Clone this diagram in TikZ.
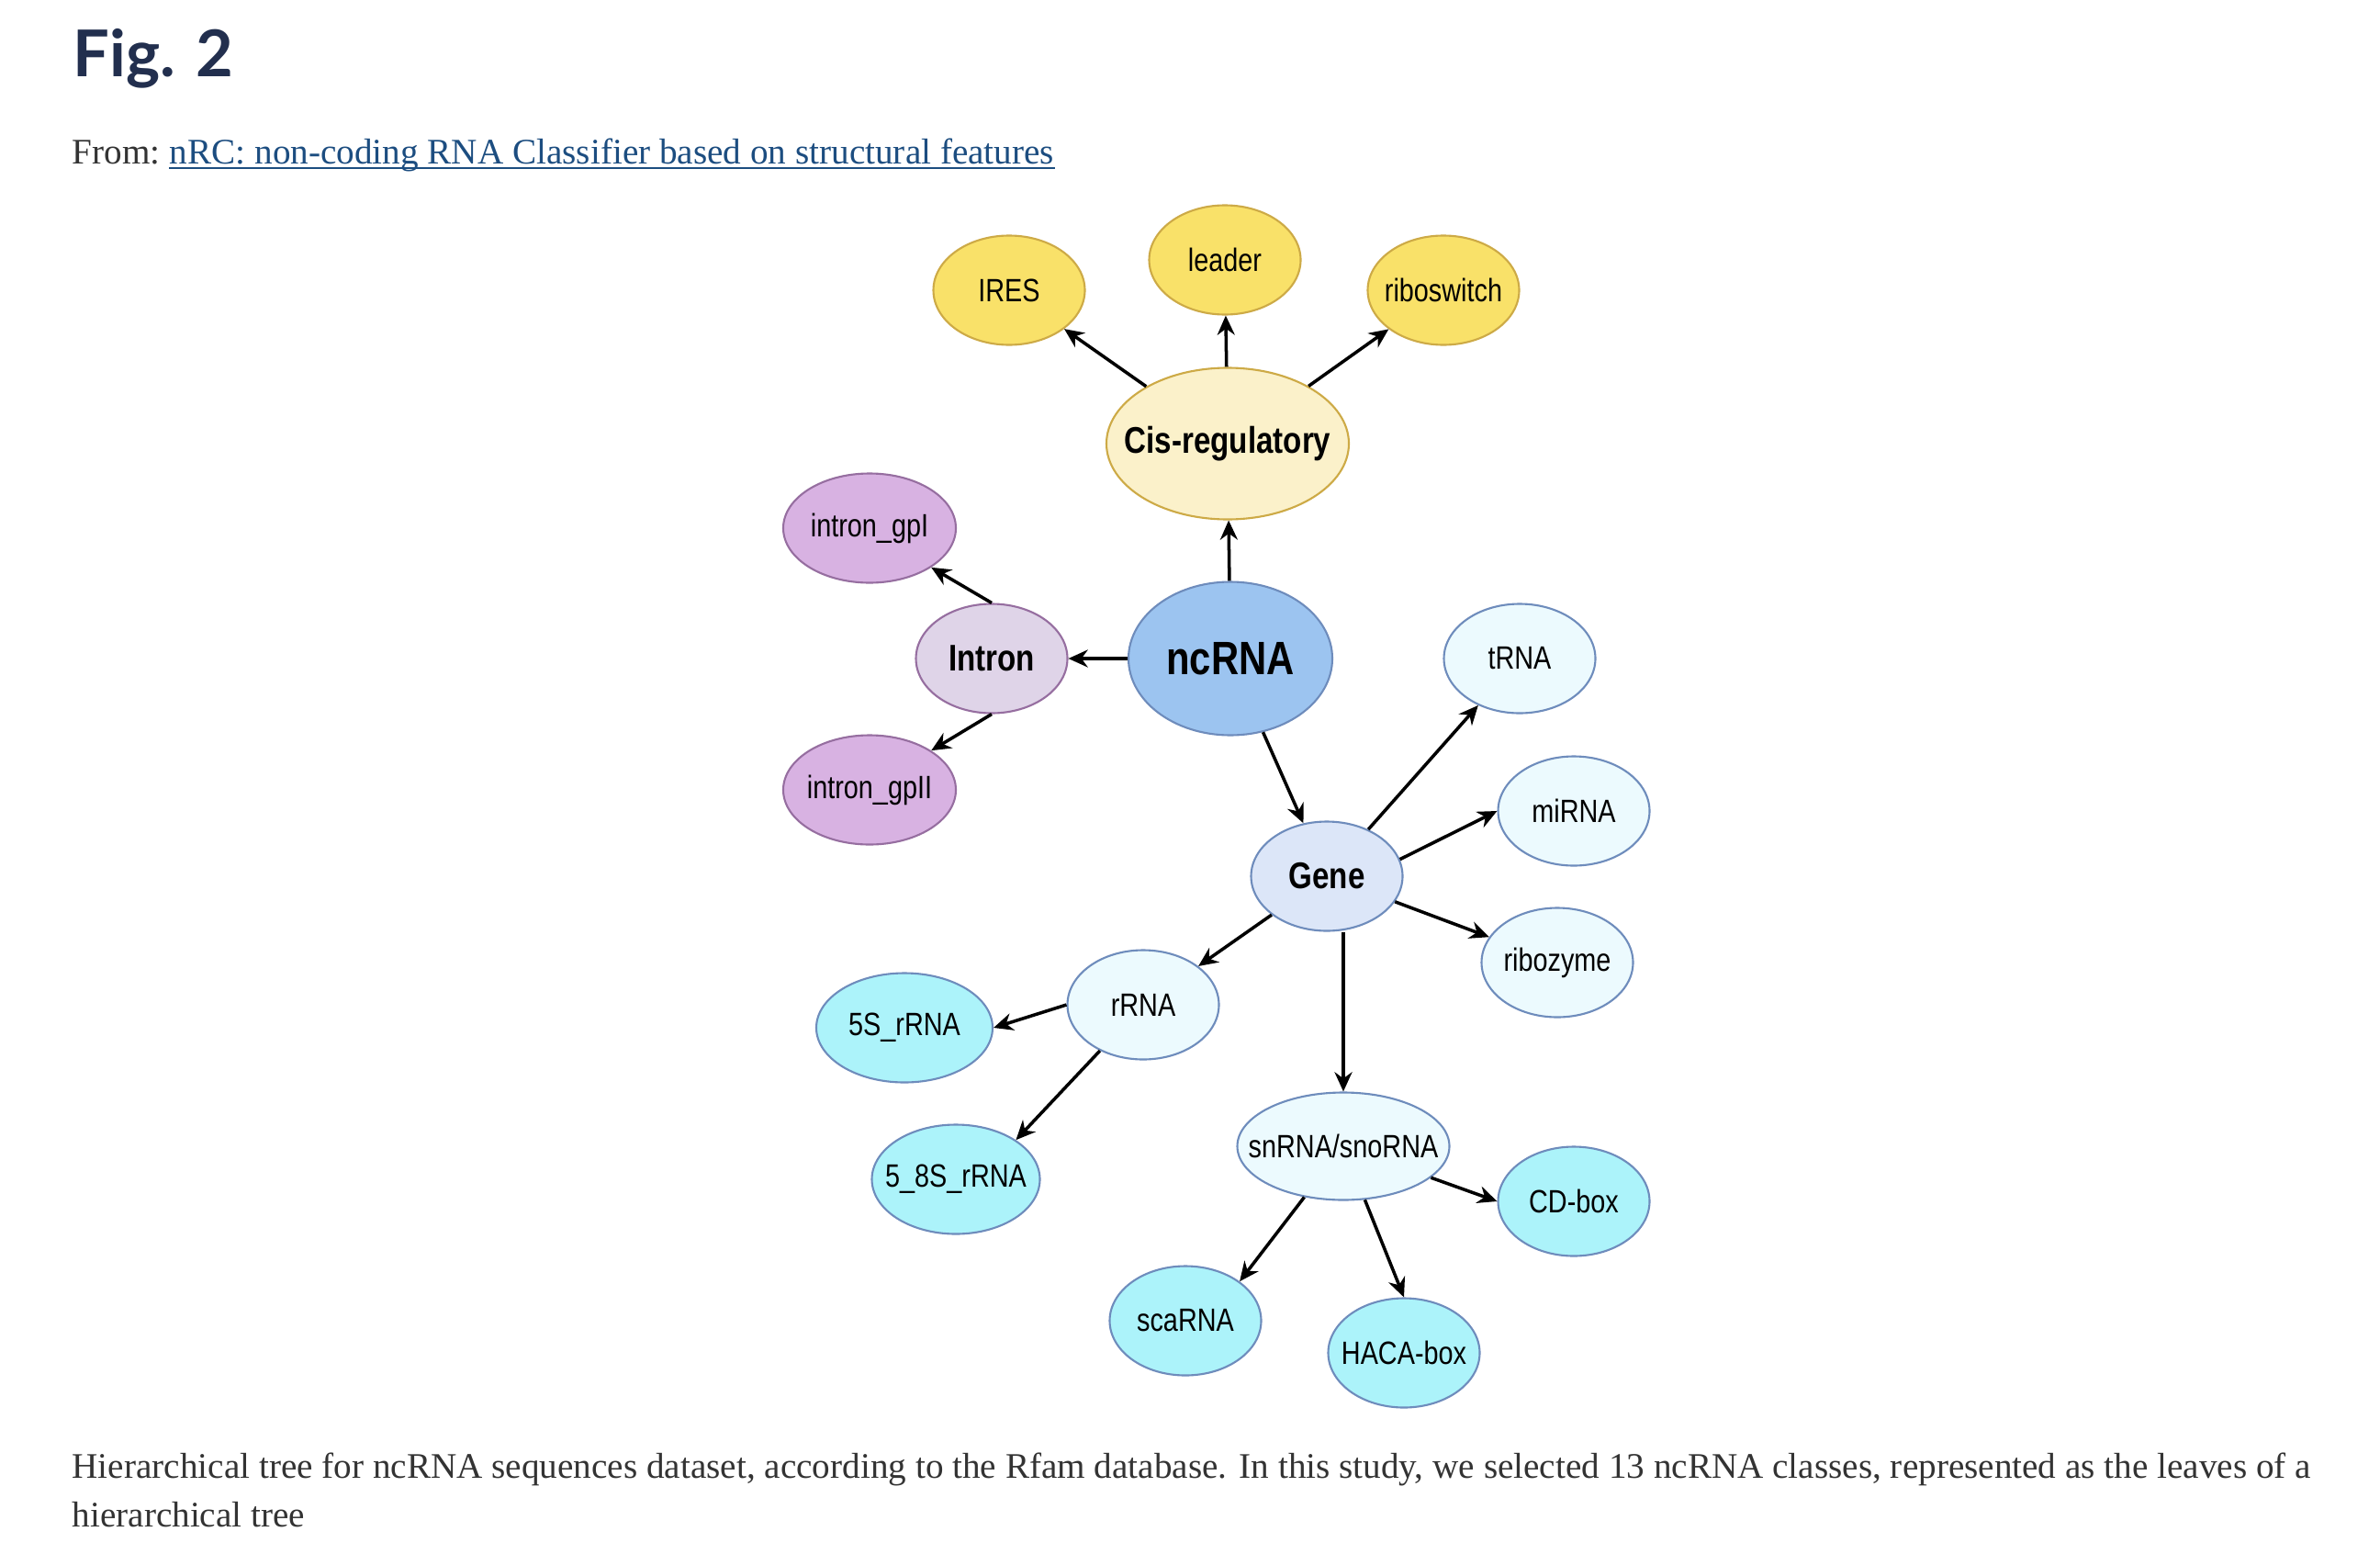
\documentclass[tikz,border=0pt]{standalone}
\usepackage{fontspec}
\setmainfont{Liberation Serif}
\newfontfamily\headfont{Lato}
\newfontfamily\nodefont[FakeStretch=0.82]{Liberation Sans}
\usepackage{tikz}
\usetikzlibrary{arrows.meta,positioning,shapes.geometric}
\definecolor{FigNavy}{RGB}{34,47,78}
\definecolor{LinkBlue}{RGB}{28,77,128}
\definecolor{TextGray}{RGB}{51,51,51}
\definecolor{LeafYellow}{RGB}{249,225,105}
\definecolor{CisYellow}{RGB}{251,241,202}
\definecolor{EdgeGold}{RGB}{205,170,70}
\definecolor{LeafPurple}{RGB}{216,178,226}
\definecolor{IntronLilac}{RGB}{223,212,232}
\definecolor{EdgePurple}{RGB}{150,110,160}
\definecolor{RootBlue}{RGB}{156,196,240}
\definecolor{GeneBlue}{RGB}{220,230,248}
\definecolor{PaleCyan}{RGB}{236,250,254}
\definecolor{LeafCyan}{RGB}{172,243,250}
\definecolor{EdgeBlue}{RGB}{110,140,188}

\begin{document}
\begin{tikzpicture}[
  blob/.style={ellipse, draw=EdgeBlue, line width=0.6pt, inner xsep=-1cm, inner ysep=0pt,
    minimum width=1.65cm, minimum height=1.19cm, font=\nodefont\fontsize{10}{12}\selectfont},
  hub/.style={blob, font=\nodefont\bfseries\fontsize{11.5}{14}\selectfont},
  link/.style={-{Stealth[length=6pt, width=5.4pt]}, line width=1pt},
  capt/.style={anchor=base west, inner sep=0pt, text=TextGray, font=\fontsize{11.15}{15}\selectfont}]

\useasboundingbox (0,0) rectangle (25.92,-16.80);

% heading
\node[anchor=base west, inner sep=0pt, text=FigNavy, font=\headfont\bfseries\fontsize{20}{24}\selectfont] (fig) at (0.79,-0.83) {Fig. 2};
\node[capt] (from) at (0.78,-1.78) {From:};
\node[capt, right=0.09cm of from.base east, anchor=base west, text=LinkBlue] (title) {nRC: non-coding RNA Classifier based on structural features};
\draw[LinkBlue, line width=0.025cm] ([yshift=-0.05cm]title.base west) -- ([yshift=-0.05cm]title.base east);

% root and cis-regulatory branch
\node[hub, fill=RootBlue, minimum width=2.22cm, minimum height=1.67cm, font=\nodefont\bfseries\fontsize{14.5}{17}\selectfont] (nc) at (13.40,-7.17) {ncRNA};
\node[hub, fill=CisYellow, draw=EdgeGold, minimum width=2.64cm, minimum height=1.65cm] (cis) at (13.37,-4.83) {Cis-regulatory};
\node[blob, fill=LeafYellow, draw=EdgeGold] (ires) at (10.99,-3.16) {IRES};
\node[blob, fill=LeafYellow, draw=EdgeGold] (leader) at (13.34,-2.83) {leader};
\node[blob, fill=LeafYellow, draw=EdgeGold] (ribo) at (15.72,-3.16) {riboswitch};

% intron branch
\node[hub, fill=IntronLilac, draw=EdgePurple] (intron) at (10.80,-7.17) {Intron};
\node[blob, fill=LeafPurple, draw=EdgePurple, minimum width=1.88cm] (gpi) at (9.47,-5.75) {intron\_gpI};
\node[blob, fill=LeafPurple, draw=EdgePurple, minimum width=1.88cm] (gpii) at (9.47,-8.60) {intron\_gpII};

% gene branch
\node[hub, fill=GeneBlue] (gene) at (14.45,-9.54) {Gene};
\node[blob, fill=PaleCyan] (trna) at (16.55,-7.17) {tRNA};
\node[blob, fill=PaleCyan] (mirna) at (17.14,-8.83) {miRNA};
\node[blob, fill=PaleCyan] (ribozyme) at (16.96,-10.48) {ribozyme};
\node[blob, fill=PaleCyan] (rrna) at (12.45,-10.94) {rRNA};
\node[blob, fill=LeafCyan, minimum width=1.92cm] (fives) at (9.85,-11.19) {5S\_rRNA};
\node[blob, fill=LeafCyan, minimum width=1.83cm] (fiveeight) at (10.41,-12.84) {5\_8S\_rRNA};
\node[blob, fill=PaleCyan, minimum width=2.31cm, minimum height=1.17cm] (snrna) at (14.63,-12.48) {snRNA/snoRNA};
\node[blob, fill=LeafCyan] (cdbox) at (17.14,-13.08) {CD-box};
\node[blob, fill=LeafCyan] (scarna) at (12.91,-14.38) {scaRNA};
\node[blob, fill=LeafCyan] (haca) at (15.29,-14.73) {HACA-box};

\draw[link] (cis) -- (ires);
\draw[link] (cis) -- (leader);
\draw[link] (cis) -- (ribo);
\draw[link] (nc) -- (cis);
\draw[link] (nc) -- (intron);
\draw[link] (intron.north) -- (gpi.south east);
\draw[link] (intron.south) -- (gpii.north east);
\draw[link] (nc) -- (gene);
\draw[link] (gene) -- (trna);
\draw[link] (gene.13) -- (mirna.west);
\draw[link] (gene) -- (ribozyme);
\draw[link] (gene) -- (rrna);
\draw[link] (gene.south -| snrna.north) -- (snrna);
\draw[link] (rrna.west) -- (fives.east);
\draw[link] (rrna) -- (fiveeight.north east);
\draw[link] (snrna) -- (cdbox.west);
\draw[link] (snrna) -- (scarna.north east);
\draw[link] (snrna) -- (haca.north);

% caption
\node[capt] (cap1) at (0.78,-16.09) {Hierarchical tree for ncRNA sequences dataset, according to the Rfam database. In this study, we selected 13 ncRNA classes, represented as the leaves of a};
\node[capt] (cap2) at ([yshift=-0.53cm]cap1.base west) {hierarchical tree};
\end{tikzpicture}
\end{document}
